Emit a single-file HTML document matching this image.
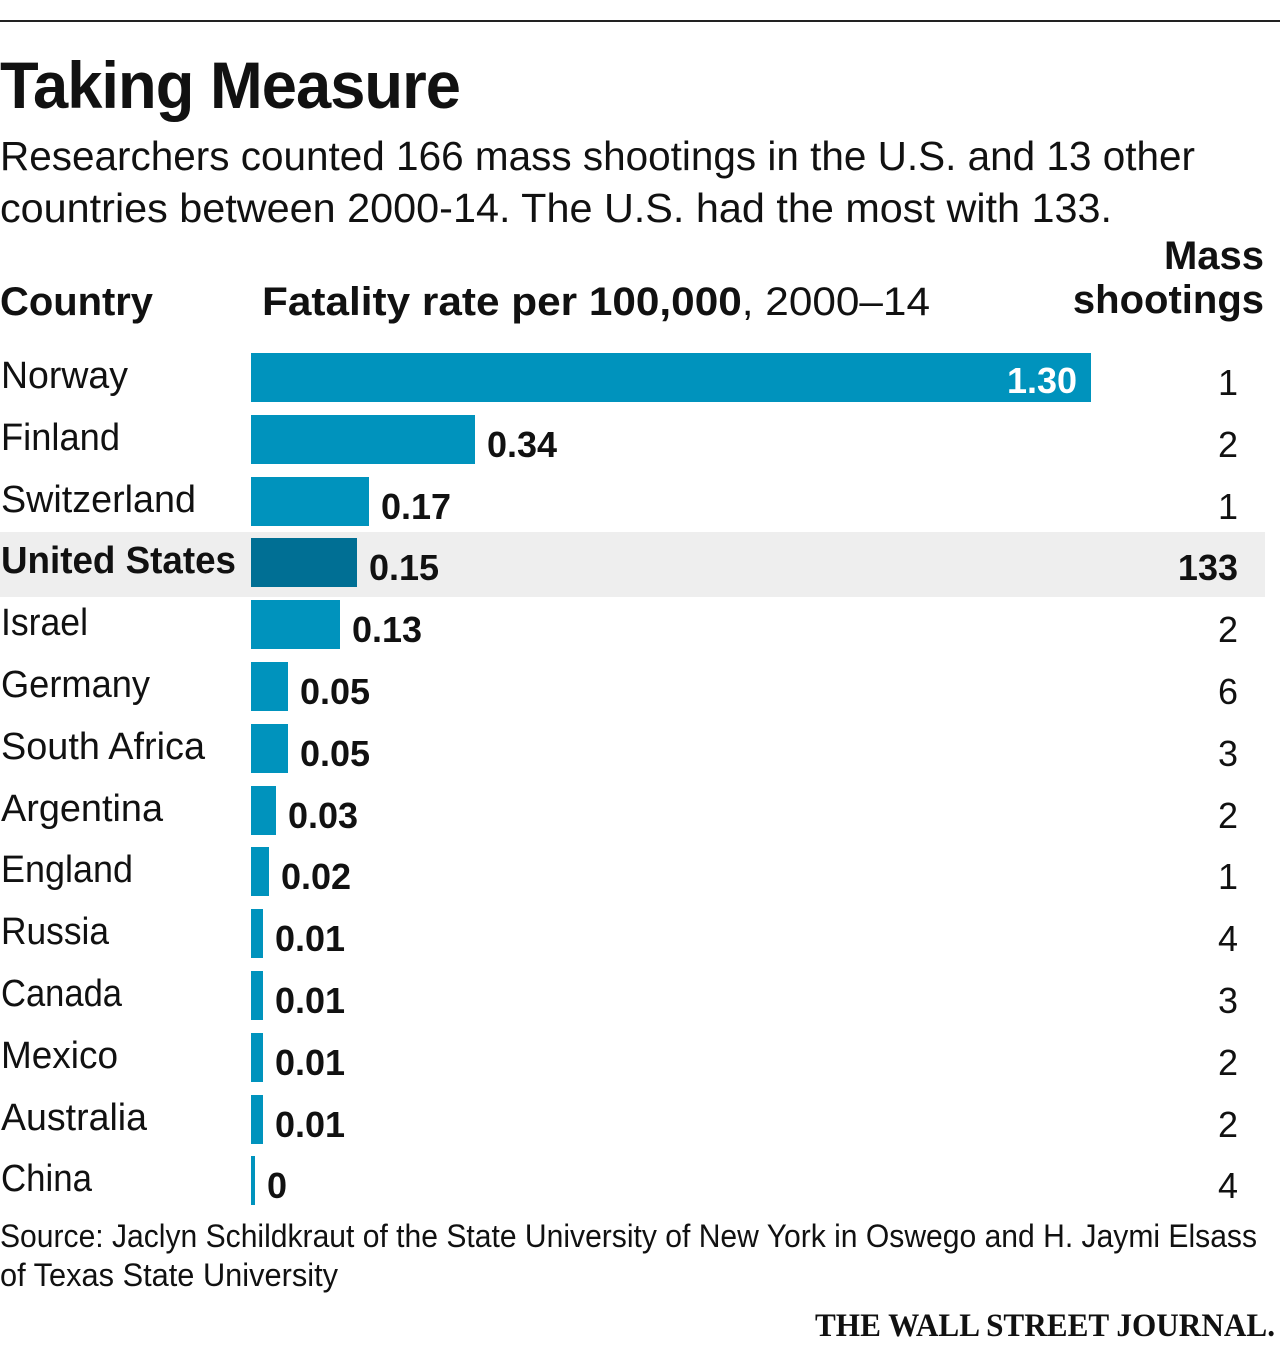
<!DOCTYPE html>
<html><head><meta charset="utf-8"><style>
body{margin:0;width:1280px;height:1355px;background:#fff;position:relative;overflow:hidden;font-family:"Liberation Sans",sans-serif;color:#111}
.a{position:absolute;white-space:nowrap;line-height:1;transform-origin:0 0}
.bar{position:absolute;left:251px;height:49px;background:#0093bd}
.lab{position:absolute;left:1px;font-size:38px;line-height:1;white-space:nowrap;transform-origin:0 0}
.val{position:absolute;font-size:36px;font-weight:bold;line-height:1;transform-origin:0 0}
.num{position:absolute;right:42px;font-size:36px;line-height:1;text-align:right}
</style></head><body>
<div class="a" style="left:0;top:20px;width:1280px;height:2px;background:#222"></div>
<div class="a fit" data-w="460" style="left:0;top:52px;font-size:66px;font-weight:bold;letter-spacing:-1px">Taking Measure</div>
<div class="a fit" data-w="1195" style="left:0;top:136px;font-size:41px">Researchers counted 166 mass shootings in the U.S. and 13 other</div>
<div class="a fit" data-w="1112" style="left:0;top:188px;font-size:41px">countries between 2000-14. The U.S. had the most with 133.</div>
<div class="a fit" data-w="153" style="left:0;top:282px;font-size:40px;font-weight:bold">Country</div>
<div class="a fit" data-w="668" style="left:262px;top:282px;font-size:40px"><b>Fatality rate per 100,000</b>, 2000–14</div>
<div class="a" style="right:16px;top:234px;font-size:40px;font-weight:bold;text-align:right;line-height:1.1">Mass<br>shootings</div>
<div class="a" style="left:0;top:532px;width:1265px;height:65px;background:#eee"></div>
<div id="rows"></div>
<div class="a fit" data-w="1257" style="left:0;top:1220px;font-size:32px">Source: Jaclyn Schildkraut of the State University of New York in Oswego and H. Jaymi Elsass</div>
<div class="a fit" data-w="338" style="left:0;top:1259px;font-size:32px">of Texas State University</div>
<div class="a fit" data-w="460" style="left:815px;top:1310px;font-size:33px;font-weight:bold;font-family:'Liberation Serif',serif">THE WALL STREET JOURNAL.</div>
<script>
var d=[["Norway",840,"1.30",1,127],["Finland",224,"0.34",2,119],["Switzerland",118,"0.17",1,195],["United States",106,"0.15",133,235],["Israel",89,"0.13",2,87],["Germany",37,"0.05",6,149],["South Africa",37,"0.05",3,204],["Argentina",25,"0.03",2,162],["England",18,"0.02",1,132],["Russia",12,"0.01",4,108],["Canada",12,"0.01",3,121],["Mexico",12,"0.01",2,117],["Australia",12,"0.01",2,146],["China",4,"0",4,91]];
var h="";
d.forEach(function(r,i){var t=353+i*61.8;var us=i==3;
h+='<div class="bar" style="top:'+t+'px;width:'+r[1]+'px;'+(us?'background:#006f94':'')+'"></div>';
h+='<div class="lab fit" data-w="'+r[4]+'" style="top:'+(t+4)+'px;'+(us?'font-weight:bold':'')+'">'+r[0]+'</div>';
if(i==0)h+='<div class="val" style="top:'+(t+10)+'px;left:1007px;color:#fff">1.30</div>';
else h+='<div class="val" style="top:'+(t+12)+'px;left:'+(251+r[1]+12)+'px">'+r[2]+'</div>';
h+='<div class="num" style="top:'+(t+12)+'px;'+(us?'font-weight:bold':'')+'">'+r[3]+'</div>';});
document.getElementById("rows").innerHTML=h;
document.querySelectorAll('.fit').forEach(function(e){var w=e.getBoundingClientRect().width;var t=+e.getAttribute('data-w');if(w>0)e.style.transform='scaleX('+(t/w)+')';});
</script>
</body></html>
